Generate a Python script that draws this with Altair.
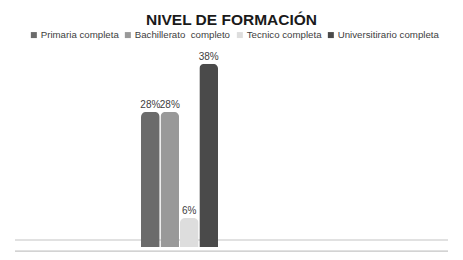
import altair as alt
import pandas as pd

categories = ["Primaria completa", "Bachillerato\u00a0 completo", "Tecnico completa", "Universitirario completa"]
values = [28, 28, 6, 38]
labels = ["28%", "28%", "6%", "38%"]
floor_levels = [1.45, -0.85]

df = pd.DataFrame({"cat": categories, "value": values, "label": labels})
floor_df = pd.DataFrame({"z": floor_levels})

palette = ["#6b6b6b", "#999999", "#dddddd", "#4a4a4a"]

xenc = alt.X("cat:N", sort=categories, axis=None,
             scale=alt.Scale(paddingInner=0.04, paddingOuter=0, range=[126, 203]))
yscale = alt.Scale(domain=[0, 40], nice=False, zero=True)
yenc = alt.Y("value:Q", axis=None, scale=yscale)

base = alt.Chart(df)

floor = alt.Chart(floor_df).mark_rule(color="#c4c4c4", strokeWidth=1.2).encode(
    y=alt.Y("z:Q", axis=None, scale=yscale))

bars = base.mark_bar(cornerRadiusTopLeft=5, cornerRadiusTopRight=5).encode(
    x=xenc,
    y=yenc,
    color=alt.Color("cat:N", sort=categories,
                    scale=alt.Scale(domain=categories, range=palette),
                    legend=alt.Legend(title=None, orient="none", direction="horizontal",
                                      legendX=14, legendY=-24, columns=4,
                                      symbolType="square", symbolSize=36,
                                      symbolStrokeWidth=0, labelFontSize=9.7,
                                      labelFont="Liberation Sans", labelColor="#404040",
                                      labelOffset=2, columnPadding=4)),
)

text = base.mark_text(baseline="bottom", dy=-2, fontSize=10, font="Liberation Sans",
                      color="#404040").encode(x=xenc, y=yenc, text="label:N")

chart = (floor + bars + text).properties(
    width=433,
    height=193,
    title=alt.TitleParams("NIVEL DE FORMACIÓN", font="Liberation Sans", fontSize=15.5,
                          fontWeight="bold", color="#1a1a1a", anchor="middle", offset=2),
    autosize=alt.AutoSizeParams(type="none"),
    padding={"left": 7, "top": 46, "right": 7, "bottom": 5},
    background="white",
).configure_view(stroke=None)

chart.save("out.html", embed_options={"renderer": "svg", "actions": False})
